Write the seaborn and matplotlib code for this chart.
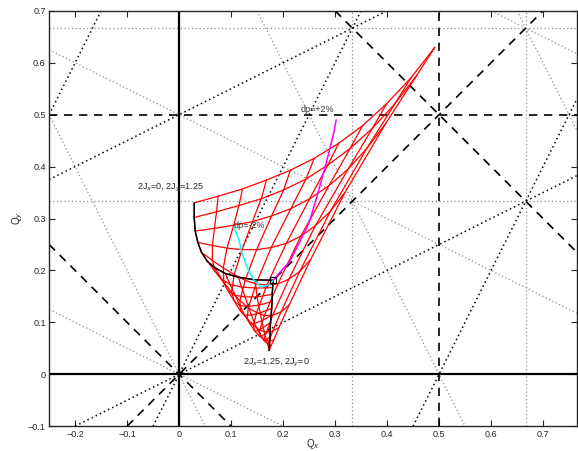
import pandas as pd
import seaborn as sns
from matplotlib import pyplot as plt

# tune footprint: rows = 2Jy steps (0 .. 1.25), columns = 2Jx steps (0 .. 1.25)
qx_grid = [
    [0.181, 0.180, 0.179, 0.179, 0.178, 0.177, 0.176, 0.175, 0.175, 0.174, 0.173],
    [0.145, 0.148, 0.150, 0.153, 0.156, 0.159, 0.162, 0.165, 0.168, 0.171, 0.174],
    [0.114, 0.120, 0.127, 0.133, 0.139, 0.145, 0.152, 0.158, 0.164, 0.171, 0.177],
    [0.089, 0.098, 0.108, 0.117, 0.126, 0.136, 0.145, 0.154, 0.163, 0.173, 0.182],
    [0.069, 0.082, 0.094, 0.106, 0.118, 0.131, 0.143, 0.155, 0.168, 0.180, 0.192],
    [0.054, 0.070, 0.086, 0.101, 0.117, 0.133, 0.149, 0.164, 0.180, 0.196, 0.212],
    [0.043, 0.064, 0.085, 0.106, 0.127, 0.148, 0.169, 0.190, 0.211, 0.232, 0.253],
    [0.036, 0.064, 0.092, 0.121, 0.149, 0.177, 0.206, 0.234, 0.262, 0.291, 0.319],
    [0.031, 0.068, 0.105, 0.141, 0.178, 0.215, 0.251, 0.288, 0.325, 0.361, 0.398],
    [0.029, 0.072, 0.115, 0.158, 0.201, 0.244, 0.286, 0.329, 0.372, 0.415, 0.458],
    [0.029, 0.075, 0.122, 0.168, 0.214, 0.260, 0.307, 0.353, 0.399, 0.446, 0.492],
]
qy_grid = [
    [0.181, 0.167, 0.154, 0.140, 0.127, 0.113, 0.100, 0.087, 0.073, 0.059, 0.046],
    [0.182, 0.166, 0.149, 0.133, 0.118, 0.103, 0.090, 0.077, 0.066, 0.056, 0.048],
    [0.187, 0.168, 0.149, 0.131, 0.114, 0.098, 0.084, 0.073, 0.064, 0.058, 0.055],
    [0.194, 0.173, 0.152, 0.132, 0.114, 0.098, 0.084, 0.074, 0.067, 0.064, 0.066],
    [0.205, 0.183, 0.161, 0.141, 0.122, 0.107, 0.094, 0.085, 0.081, 0.083, 0.090],
    [0.218, 0.197, 0.177, 0.158, 0.142, 0.128, 0.119, 0.113, 0.114, 0.120, 0.134],
    [0.235, 0.219, 0.205, 0.192, 0.181, 0.174, 0.172, 0.174, 0.183, 0.198, 0.221],
    [0.254, 0.248, 0.243, 0.240, 0.240, 0.244, 0.252, 0.266, 0.286, 0.314, 0.350],
    [0.276, 0.281, 0.287, 0.294, 0.305, 0.319, 0.338, 0.363, 0.395, 0.435, 0.484],
    [0.302, 0.313, 0.325, 0.338, 0.355, 0.376, 0.403, 0.435, 0.474, 0.521, 0.577],
    [0.330, 0.343, 0.357, 0.374, 0.393, 0.416, 0.445, 0.479, 0.521, 0.571, 0.630],
]

# chromatic tune lines (dp = -2% .. 0, 0 .. +2%)
dpm_qx = [0.106, 0.115, 0.121, 0.131, 0.144, 0.158, 0.173, 0.181]
dpm_qy = [0.282, 0.259, 0.234, 0.205, 0.181, 0.168, 0.172, 0.181]
dpp_qx = [0.181, 0.198, 0.212, 0.231, 0.250, 0.265, 0.283, 0.298, 0.302]
dpp_qy = [0.181, 0.201, 0.216, 0.253, 0.292, 0.342, 0.407, 0.467, 0.490]

# resonance lines m*Qx + n*Qy = p
res_solid = [(1, 0, 0), (0, 1, 0)]
res_dashed = [(2, 0, 1), (0, 2, 1), (1, 1, 0), (1, 1, 1), (1, -1, 0)]
res_black_dot = [(2, -1, 0), (2, -1, -1), (2, -1, 1), (1, -2, 0), (1, -2, -1)]
res_grey_dot = [(3, 0, 1), (3, 0, 2), (0, 3, 1), (0, 3, 2),
                (2, 1, 0), (2, 1, 1), (2, 1, 2), (1, 2, 0), (1, 2, 1), (1, 2, 2)]

sns.set_style('ticks')
plt.rcParams['font.family'] = ['Liberation Sans', 'DejaVu Sans']
fig = plt.figure(figsize=(5.78, 4.51), dpi=100)
ax = fig.add_axes([0.085, 0.055, 0.913, 0.921])


def draw_res(lst, **kw):
    for m, n, p in lst:
        if n == 0:
            ax.axvline(p / m, **kw)
        elif m == 0:
            ax.axhline(p / n, **kw)
        else:
            ax.axline((0, p / n), slope=-m / n, **kw)


draw_res(res_grey_dot, color='0.55', ls=(0, (1, 2)), lw=0.9)
draw_res(res_black_dot, color='black', ls=(0, (1, 2)), lw=1.1)
draw_res(res_dashed, color='black', ls=(0, (5, 4)), lw=1.2)
draw_res(res_solid, color='black', ls='-', lw=1.6)

# grid lines of the footprint, both directions
n = len(qx_grid)
rows = []
for j in range(n):
    for i in range(n):
        rows.append(('jy%d' % j, qx_grid[j][i], qy_grid[j][i]))
for i in range(n):
    for j in range(n):
        rows.append(('jx%d' % i, qx_grid[j][i], qy_grid[j][i]))
grid = pd.DataFrame(rows, columns=['line', 'Qx', 'Qy'])
sns.lineplot(data=grid, x='Qx', y='Qy', units='line', estimator=None, sort=False,
             color='red', lw=0.9, ax=ax)
# edges 2Jx=0 and 2Jy=0 in black
ax.plot([r[0] for r in qx_grid], [r[0] for r in qy_grid], color='black', lw=1.1)
ax.plot(qx_grid[0], qy_grid[0], color='black', lw=1.1)

sns.lineplot(x=dpm_qx, y=dpm_qy, sort=False, color='cyan', lw=1.1, ax=ax)
sns.lineplot(x=dpp_qx, y=dpp_qy, sort=False, color='magenta', lw=1.1, ax=ax)
ax.plot([qx_grid[0][0]], [qy_grid[0][0]], 's', ms=5, mfc='none', mec='black', mew=0.8)

fs = 6.5
ax.text(-0.081, 0.355, '2J$_x$=0, 2J$_y$=1.25', fontsize=fs)
ax.text(0.123, 0.018, '2J$_x$=1.25, 2J$_y$=0', fontsize=fs)
ax.text(0.233, 0.505, 'dp=+2%', fontsize=fs, color='0.2')
ax.text(0.104, 0.282, 'dp=-2%', fontsize=fs, color='0.2')

ax.set_xlim(-0.25, 0.765)
ax.set_ylim(-0.1, 0.7)
ax.set_xticks([-0.2, -0.1, 0, 0.1, 0.2, 0.3, 0.4, 0.5, 0.6, 0.7])
ax.set_xticklabels(['\u22120.2', '\u22120.1', '0', '0.1', '0.2', '0.3', '0.4', '0.5', '0.6', '0.7'])
ax.set_yticks([-0.1, 0, 0.1, 0.2, 0.3, 0.4, 0.5, 0.6, 0.7])
ax.set_yticklabels(['\u22120.1', '0', '0.1', '0.2', '0.3', '0.4', '0.5', '0.6', '0.7'])
ax.tick_params(direction='in', top=True, right=True, labelsize=fs, length=4, width=0.8, pad=2.5)
for sp in ax.spines.values():
    sp.set_linewidth(1.0)
ax.set_xlabel('Q$_x$', fontsize=fs + 0.5, labelpad=-1)
ax.set_ylabel('Q$_y$', fontsize=fs + 0.5, labelpad=2)

fig.savefig('out.png', dpi=100)
